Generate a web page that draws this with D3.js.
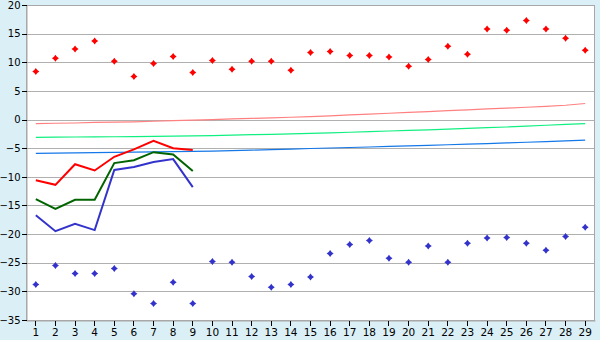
<!DOCTYPE html>
<html><head><meta charset="utf-8">
<script src="https://cdn.jsdelivr.net/npm/d3@7"></script>
<style>
html,body{margin:0;padding:0;background:#DAEFF6;}
svg{display:block;}
text{font-family:"DejaVu Sans",Verdana,sans-serif;font-size:10px;fill:#000;}
</style></head>
<body><svg id="c" width="600" height="340"></svg>
<script>
const days = d3.range(1, 30).map(String);
const yTicks = [20, 15, 10, 5, 0, -5, -10, -15, -20, -25, -30, -35];

const maxPoints = [8.4,10.7,12.3,13.7,10.2,7.5,9.8,11.0,8.2,10.3,8.8,10.2,10.2,8.6,11.7,11.9,11.2,11.2,10.9,9.3,10.5,12.8,11.4,15.8,15.6,17.3,15.8,14.2,12.1];
const minPoints = [-28.8,-25.5,-26.9,-26.9,-26.0,-30.4,-32.1,-28.4,-32.1,-24.8,-24.9,-27.4,-29.3,-28.8,-27.5,-23.4,-21.8,-21.1,-24.2,-24.9,-22.1,-24.9,-21.6,-20.7,-20.6,-21.6,-22.8,-20.4,-18.8];

const maxLine = [-10.6,-11.4,-7.8,-8.9,-6.5,-5.2,-3.7,-5.0,-5.3];
const meanLine = [-13.9,-15.6,-14.0,-14.0,-7.6,-7.1,-5.7,-6.1,-9.0];
const minLine = [-16.7,-19.5,-18.2,-19.3,-8.8,-8.3,-7.4,-6.9,-11.8];

const normMax = [-0.7,-0.65,-0.6,-0.5,-0.45,-0.4,-0.3,-0.2,-0.1,0.0,0.1,0.2,0.3,0.4,0.5,0.65,0.8,0.95,1.1,1.25,1.4,1.55,1.7,1.85,2.0,2.15,2.3,2.5,2.8];
const normMean = [-3.1,-3.08,-3.05,-3.02,-3.0,-2.97,-2.93,-2.9,-2.85,-2.8,-2.72,-2.65,-2.58,-2.5,-2.42,-2.32,-2.22,-2.12,-2.0,-1.9,-1.8,-1.68,-1.55,-1.42,-1.3,-1.15,-1.0,-0.85,-0.7];
const normMin = [-5.9,-5.86,-5.82,-5.78,-5.74,-5.7,-5.65,-5.6,-5.55,-5.5,-5.42,-5.34,-5.25,-5.15,-5.06,-4.97,-4.88,-4.79,-4.7,-4.6,-4.5,-4.4,-4.3,-4.2,-4.08,-3.96,-3.84,-3.72,-3.6];

const L = 26, R = 595, T = 5, B = 320;
const svg = d3.select("#c");
const x = d3.scaleBand().domain(days).range([L, R]);
const y = d3.scaleLinear().domain([-35, 20]).range([B, T]);
const cx = d => x(d) + x.bandwidth() / 2;

svg.append("rect").attr("x", L).attr("y", T).attr("width", R - L).attr("height", B - T).attr("fill", "#fff");

// grid
svg.append("g").selectAll("line").data(yTicks).join("line")
  .attr("x1", L).attr("x2", R).attr("y1", d => Math.round(y(d)) + 0.5).attr("y2", d => Math.round(y(d)) + 0.5)
  .attr("stroke", "#b0b0b0").attr("stroke-width", 1).attr("shape-rendering", "crispEdges");

// border
svg.append("rect").attr("x", L + 0.5).attr("y", T + 0.5).attr("width", R - L - 1).attr("height", B - T)
  .attr("fill", "none").attr("stroke", "#a8a8a8").attr("shape-rendering", "crispEdges");

// axes
const xAxis = d3.axisBottom(x).tickSize(5).tickSizeOuter(0).tickPadding(3);
const gx = svg.append("g").attr("transform", `translate(0,${B + 0.5})`).call(xAxis);
gx.select(".domain").attr("stroke", "#a8a8a8");
gx.selectAll(".tick line").attr("stroke", "#000").attr("shape-rendering", "crispEdges");
gx.selectAll("text").style("font-size", "10.5px").attr("fill", "#000").attr("font-family", "DejaVu Sans");

const yAxis = d3.axisLeft(y).tickValues(yTicks).tickSize(5).tickSizeOuter(0).tickPadding(1);
const gy = svg.append("g").attr("transform", `translate(${L + 0.5},0)`).call(yAxis);
gy.select(".domain").attr("stroke", "#a8a8a8");
gy.selectAll(".tick line").attr("stroke", "#000").attr("shape-rendering", "crispEdges");
gy.selectAll("text").style("font-size", "10px").attr("fill", "#000").attr("font-family", "DejaVu Sans");

const line = d3.line().x((d, i) => cx(days[i])).y(d => y(d));

function drawLine(data, color, w) {
  svg.append("path").datum(data).attr("d", line).attr("fill", "none")
    .attr("stroke", color).attr("stroke-width", w).attr("stroke-linejoin", "miter");
}
drawLine(normMax, "#ff8080", 1.2);
drawLine(normMean, "#10f080", 1.2);
drawLine(normMin, "#1478e8", 1.2);
drawLine(minLine, "#3333cc", 2);
drawLine(meanLine, "#006400", 2);
drawLine(maxLine, "#ff0000", 2);

const marker = "M0,-3.5L1.5,-1.5L3.5,0L1.5,1.5L0,3.5L-1.5,1.5L-3.5,0L-1.5,-1.5Z";
function drawPts(data, color) {
  svg.append("g").selectAll("path").data(data).join("path")
    .attr("d", marker).attr("fill", color)
    .attr("transform", (d, i) => `translate(${cx(days[i])},${y(d)})`);
}
drawPts(maxPoints, "#ff0000");
drawPts(minPoints, "#3333cc");
</script></body></html>
